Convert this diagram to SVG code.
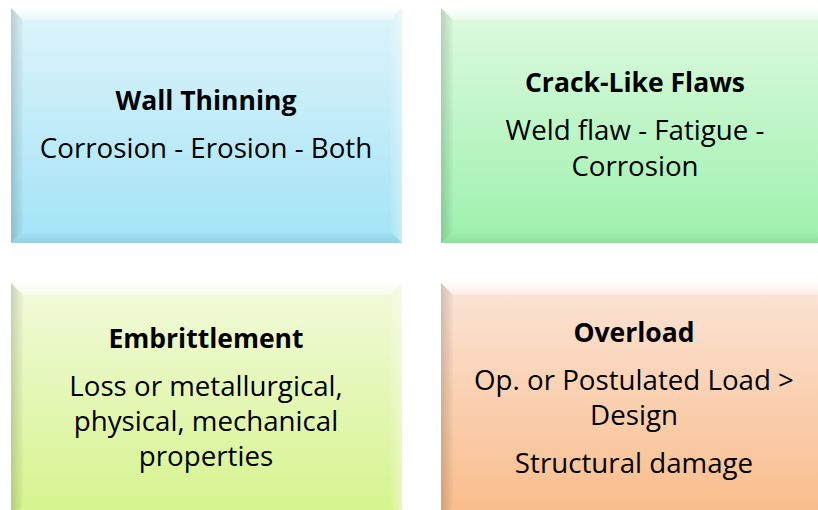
<svg xmlns="http://www.w3.org/2000/svg" width="818" height="510" viewBox="0 0 818 510">
<defs>
<linearGradient id="gBlue" x1="0" y1="0" x2="0" y2="1"><stop offset="0" stop-color="#dff4fb"/><stop offset="1" stop-color="#a3e3f6"/></linearGradient>
<linearGradient id="gGreen" x1="0" y1="0" x2="0" y2="1"><stop offset="0" stop-color="#defae0"/><stop offset="1" stop-color="#9df1ad"/></linearGradient>
<linearGradient id="gLime" x1="0" y1="0" x2="0" y2="1"><stop offset="0" stop-color="#f2fadc"/><stop offset="1" stop-color="#d5f48c"/></linearGradient>
<linearGradient id="gOrange" x1="0" y1="0" x2="0" y2="1"><stop offset="0" stop-color="#fbe4d6"/><stop offset="1" stop-color="#f9bc8a"/></linearGradient>
<linearGradient id="topB" x1="0" y1="0" x2="0" y2="1"><stop offset="0" stop-color="#fff" stop-opacity="0.95"/><stop offset="1" stop-color="#fff" stop-opacity="0.35"/></linearGradient>
<linearGradient id="leftB" x1="0" y1="0" x2="1" y2="0"><stop offset="0" stop-color="#000" stop-opacity="0.16"/><stop offset="1" stop-color="#000" stop-opacity="0.02"/></linearGradient>
<linearGradient id="rightB" x1="1" y1="0" x2="0" y2="0"><stop offset="0" stop-color="#fff" stop-opacity="0.35"/><stop offset="1" stop-color="#fff" stop-opacity="0.05"/></linearGradient>
<linearGradient id="botB" x1="0" y1="1" x2="0" y2="0"><stop offset="0" stop-color="#000" stop-opacity="0.08"/><stop offset="1" stop-color="#000" stop-opacity="0"/></linearGradient>
</defs>
<style>
.t{font-family:"Open Sans","Liberation Sans",sans-serif;font-weight:bold;font-size:26.5px;fill:#000;text-anchor:middle}
.b{font-family:"Open Sans","Liberation Sans",sans-serif;font-size:27.7px;fill:#000;text-anchor:middle}
</style>
<g id="wall-thinning">
<rect x="11" y="8" width="391" height="235" fill="url(#gBlue)"/>
<polygon points="11,8 402,8 390,20 23,20" fill="url(#topB)"/>
<polygon points="11,8 23,20 23,231 11,243" fill="url(#leftB)"/>
<polygon points="402,8 402,243 390,231 390,20" fill="url(#rightB)"/>
<polygon points="11,243 23,231 390,231 402,243" fill="url(#botB)"/>
<text class="t" x="206" y="110">Wall Thinning</text>
<text class="b" x="206" y="158">Corrosion - Erosion - Both</text>
</g>
<g id="crack-like-flaws">
<rect x="441" y="8" width="391" height="235" fill="url(#gGreen)"/>
<polygon points="441,8 832,8 820,20 453,20" fill="url(#topB)"/>
<polygon points="441,8 453,20 453,231 441,243" fill="url(#leftB)"/>
<polygon points="441,243 453,231 820,231 832,243" fill="url(#botB)"/>
<text class="t" x="635" y="92">Crack-Like Flaws</text>
<text class="b" x="635" y="140">Weld flaw - Fatigue -</text>
<text class="b" x="635" y="176">Corrosion</text>
</g>
<g id="embrittlement">
<rect x="11" y="283" width="391" height="235" fill="url(#gLime)"/>
<polygon points="11,283 402,283 390,295 23,295" fill="url(#topB)"/>
<polygon points="11,283 23,295 23,506 11,518" fill="url(#leftB)"/>
<polygon points="402,283 402,518 390,506 390,295" fill="url(#rightB)"/>
<text class="t" x="206" y="348">Embrittlement</text>
<text class="b" x="206" y="396">Loss or metallurgical,</text>
<text class="b" x="206" y="431">physical, mechanical</text>
<text class="b" x="206" y="466">properties</text>
</g>
<g id="overload">
<rect x="441" y="283" width="391" height="235" fill="url(#gOrange)"/>
<polygon points="441,283 832,283 820,295 453,295" fill="url(#topB)"/>
<polygon points="441,283 453,295 453,506 441,518" fill="url(#leftB)"/>
<text class="t" x="634" y="342">Overload</text>
<text class="b" x="634" y="390">Op. or Postulated Load &gt;</text>
<text class="b" x="634" y="425">Design</text>
<text class="b" x="634" y="473">Structural damage</text>
</g>
<g id="connectors"/>
</svg>
